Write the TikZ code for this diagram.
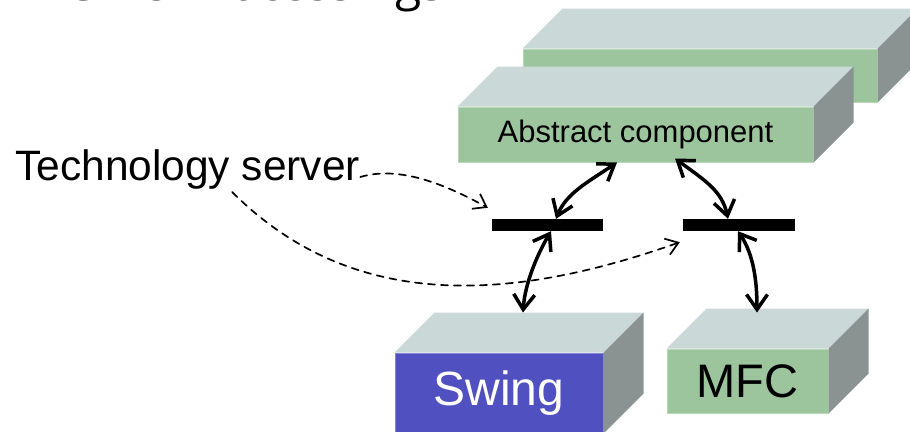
\documentclass[tikz,border=0pt]{standalone}
\usepackage{fontspec}
\setmainfont{Liberation Sans}
\newfontfamily\titlefont{Open Sans}
\usetikzlibrary{arrows.meta}
\definecolor{facegreen}{RGB}{156,197,157}
\definecolor{facerim}{RGB}{184,216,184}
\definecolor{faceblue}{RGB}{80,80,192}
\definecolor{bluerim}{RGB}{132,132,220}
\definecolor{facetop}{RGB}{203,216,216}
\definecolor{faceside}{RGB}{138,147,145}
\tikzset{
	face/.style={draw=facerim, line width=1pt, fill=facegreen, inner sep=0pt},
	bar/.style={fill=black, inner sep=0pt, minimum height=12pt},
	link/.style={<->, line width=3.5pt},
	hint/.style={-{Straight Barb[length=12pt,width=17pt]}, line width=1.7pt, dash pattern=on 7pt off 6pt}
}
% mặt trên và mặt bên của khối
\newcommand{\cuboid}[1]{%
	\fill[facetop] (#1.north west) -- ++(\deep,-\deep) -- ([shift={(\deep,-\deep)}]#1.north east) -- (#1.north east) -- cycle;
	\fill[faceside] (#1.north east) -- ++(\deep,-\deep) -- ([shift={(\deep,-\deep)}]#1.south east) -- (#1.south east) -- cycle;}
\begin{document}
\begin{tikzpicture}[x=1pt,y=-1pt,>={Straight Barb[length=15pt,width=21pt]}, line join=round, line cap=round]
		\def\deep{40} % chiều sâu
		\useasboundingbox (0,0) rectangle (910,431);
		\clip (0,0) rectangle (910,431);
		\node[anchor=base east, font=\titlefont\fontsize{48}{52}\selectfont] (title) at (448,1) {DCT is Processings};
		% các khối
		\node[face, minimum width=354pt, minimum height=53pt] (back) at (700,75.5) {};
		\cuboid{back}
		\node[face, minimum width=355pt, minimum height=55pt, font=\fontsize{31}{36}\selectfont] (abs) at (635.5,134.5) {Abstract component};
		\cuboid{abs}
		\node[face, draw=bluerim, fill=faceblue, text=white, minimum width=208pt, minimum height=80pt, font=\fontsize{48}{52}\selectfont] (swing) at (499,393) {Swing};
		\cuboid{swing}
		\node[face, minimum width=161pt, minimum height=64pt, font=\fontsize{47}{52}\selectfont] (mfc) at (747.5,381) {MFC};
		\cuboid{mfc}
		\node[bar, minimum width=111pt] (barL) at (547.5,225) {};
		\node[bar, minimum width=112pt] (barR) at (739,225) {};
		\node[anchor=base west, inner sep=0pt, font=\fontsize{42.5}{48}\selectfont] (ts) at (15,180) {Technology server};
		% mũi tên hai chiều
		\draw[link] ([xshift=-18.5pt]abs.south) .. controls +(-30,20) and +(10,-25) .. ([xshift=8.5pt]barL.north);
		\draw[link] ([xshift=39.5pt,yshift=4pt]abs.south) .. controls +(30,22) and +(-6,-28) .. ([xshift=-11pt]barR.north);
		\draw[link] ([xshift=3.5pt]barL.south) .. controls +(-13,22) and +(2,-30) .. ([xshift=24pt,yshift=40pt]swing.north);
		\draw[link] ([xshift=-1pt]barR.south) .. controls +(16,24) and +(0,-30) .. ([xshift=9.5pt,yshift=36pt]mfc.north);
		% đường nét đứt
		\draw[hint] ([yshift=3pt]ts.base east) .. controls +(40,-12) and +(-40,-22) .. ([xshift=-4pt,yshift=11pt]barL.north west);
		\draw[hint] ([xshift=44.5pt,yshift=-3pt]ts.south) .. controls +(120,120) and +(-170,60) .. ([xshift=-3pt,yshift=-11pt]barR.south west);
\end{tikzpicture}
\end{document}
